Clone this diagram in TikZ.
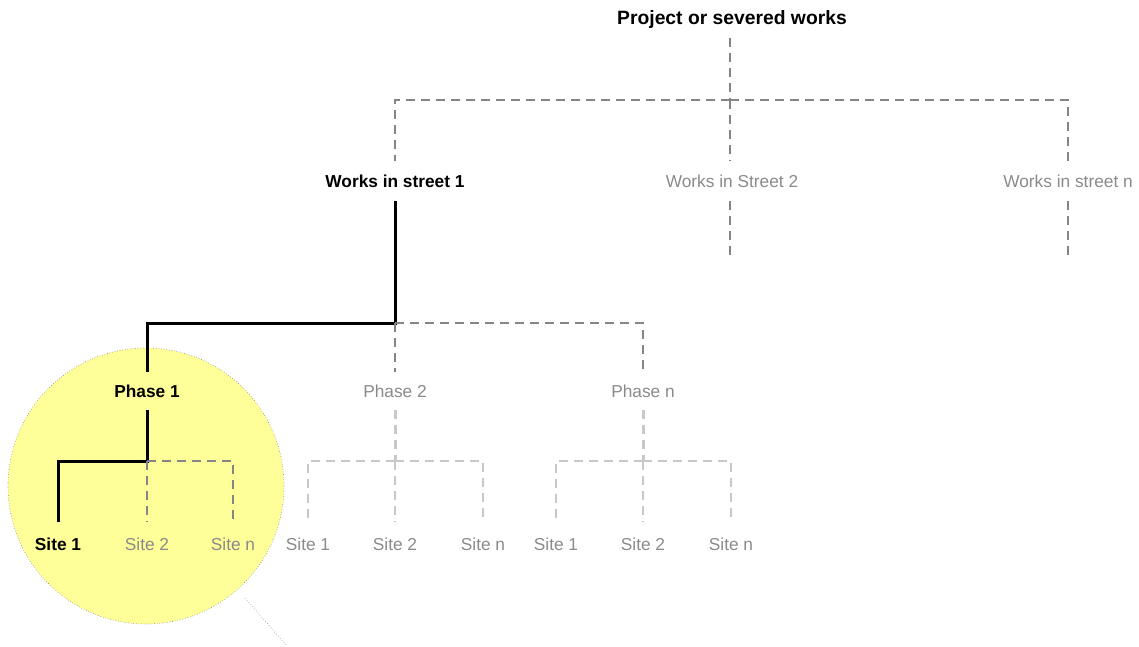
\documentclass[tikz,border=0pt]{standalone}
\usepackage{fontspec}
\setmainfont{Liberation Sans}
\definecolor{midgray}{HTML}{858585}
\definecolor{lightgray2}{HTML}{C8C8C8}
\definecolor{txtgray}{HTML}{8A8A8A}
\definecolor{circfill}{HTML}{FFFF99}
\begin{document}
\begin{tikzpicture}[x=1pt,y=-1pt,
  lbl/.style={inner sep=0pt, minimum height=40pt, font=\fontsize{17.3}{20}\selectfont, text=txtgray},
  bold/.style={lbl, font=\fontsize{17.3}{20}\selectfont\bfseries, text=black},
  mainline/.style={line width=3pt, black},
  dashA/.style={line width=2pt, midgray, dash pattern=on 9pt off 6pt},
  dashB/.style={line width=2pt, lightgray2, dash pattern=on 9pt off 6pt},
  dashBthick/.style={line width=3pt, lightgray2, dash pattern=on 9pt off 6pt}]
\useasboundingbox (0,0) rectangle (1139,646);
% highlight circle
\fill[circfill] (146,486) circle (138);
\draw[gray, dotted, line width=0.6pt] (146,486) circle (138);
\coordinate (zs) at (245,598);
\coordinate (ze) at (287,646);
\draw[gray!60, dotted, line width=0.8pt] (zs) -- (ze);

% nodes
\node[bold, font=\fontsize{19.3}{22}\selectfont\bfseries, minimum height=36pt] (proj) at (732,20) {Project or severed works};
\node[bold] (ws1) at (395,181) {Works in street 1};
\node[lbl] (ws2) at (732,181) {Works in Street 2};
\node[lbl] (wsn) at (1068,181) {Works in street n};
\coordinate (e2) at (730,260);
\coordinate (en) at (1068,260);

\node[bold, minimum height=38pt] (ph1) at (147,391) {Phase 1};
\node[lbl, minimum height=38pt] (ph2) at (395,391) {Phase 2};
\node[lbl, minimum height=38pt] (phn) at (643,391) {Phase n};

\node[bold, minimum height=44pt] (s11) at (58,544) {Site 1};
\node[lbl, minimum height=44pt] (s12) at (147,544) {Site 2};
\node[lbl, minimum height=44pt] (s1n) at (233,544) {Site n};
\node[lbl, minimum height=44pt] (s21) at (308,544) {Site 1};
\node[lbl, minimum height=44pt] (s22) at (395,544) {Site 2};
\node[lbl, minimum height=44pt] (s2n) at (483,544) {Site n};
\node[lbl, minimum height=44pt] (sn1) at (556,544) {Site 1};
\node[lbl, minimum height=44pt] (sn2) at (643,544) {Site 2};
\node[lbl, minimum height=44pt] (snn) at (731,544) {Site n};

% junctions
\coordinate (j0) at (730,100);
\coordinate (j1) at (395,323);
\coordinate (j2) at (147,461);
\coordinate (j3) at (395,461);
\coordinate (j4) at (643,461);

% level 1
\draw[dashA] (proj.south -| j0) -- (j0);
\draw[dashA] (j0) -| (ws1.north);
\draw[dashA] (j0) -- (j0 |- ws2.north);
\draw[dashA] (j0) -| (wsn.north);
\draw[dashA] (ws2.south -| e2) -- (e2);
\draw[dashA] (wsn.south) -- (en);

% level 2
\draw[mainline] (ws1.south) -- (j1) -| (ph1.north);
\draw[dashA] (j1) -- (ph2.north);
\draw[dashA] (j1) -| (phn.north);

% level 3, phase 1
\draw[mainline] (ph1.south) -- (j2) -| (s11.north);
\draw[dashA] (j2) -- (s12.north);
\draw[dashA] (j2) -| (s1n.north);

% phase 2
\draw[dashBthick] (ph2.south) -- (j3);
\draw[dashB] (j3) -| (s21.north);
\draw[dashB] (j3) -- (s22.north);
\draw[dashB] (j3) -| (s2n.north);

% phase n
\draw[dashBthick] (phn.south) -- (j4);
\draw[dashB] (j4) -| (sn1.north);
\draw[dashB] (j4) -- (sn2.north);
\draw[dashB] (j4) -| (snn.north);
\end{tikzpicture}
\end{document}
